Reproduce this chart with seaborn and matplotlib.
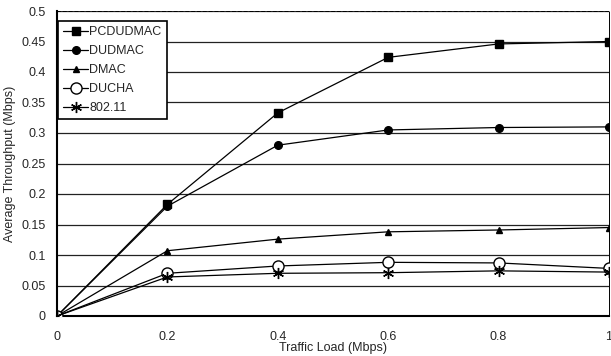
import numpy as np
import pandas as pd
import matplotlib
matplotlib.use("Agg")
import matplotlib.pyplot as plt
import seaborn as sns

traffic_load = [0, 0.2, 0.4, 0.6, 0.8, 1.0]
pcdudmac = [0, 0.183, 0.333, 0.424, 0.446, 0.45]
dudmac = [0, 0.180, 0.280, 0.305, 0.309, 0.310]
dmac = [0, 0.107, 0.126, 0.138, 0.141, 0.145]
ducha = [0, 0.070, 0.082, 0.088, 0.087, 0.078]
ieee80211 = [0, 0.064, 0.070, 0.071, 0.074, 0.072]

series = ["PCDUDMAC", "DUDMAC", "DMAC", "DUCHA", "802.11"]
values = [pcdudmac, dudmac, dmac, ducha, ieee80211]

df = pd.DataFrame({
    "load": traffic_load * len(series),
    "thr": sum(values, []),
    "proto": [s for s in series for _ in traffic_load],
})

sns.set_style("white")
plt.rcParams["font.family"] = ["Liberation Sans", "DejaVu Sans"]

fig = plt.figure(figsize=(6.11, 3.56), dpi=100)
ax = fig.add_axes([57 / 611, 40 / 356, 552 / 611, 305 / 356])

markers = {"PCDUDMAC": "s", "DUDMAC": "o", "DMAC": "^", "DUCHA": "o", "802.11": (6, 2, 0)}
faces = {"PCDUDMAC": "black", "DUDMAC": "black", "DMAC": "black", "DUCHA": "white", "802.11": "black"}
sizes = {"PCDUDMAC": 5.5, "DUDMAC": 5.5, "DMAC": 4.5, "DUCHA": 8, "802.11": 8}

for name in series:
    sub = df[df["proto"] == name]
    sns.lineplot(data=sub, x="load", y="thr", ax=ax, color="black", lw=0.9,
                 marker=markers[name], markersize=sizes[name],
                 markerfacecolor=faces[name], markeredgecolor="black",
                 markeredgewidth=1.0, label=name, zorder=3)

ax.set_xlim(0, 1)
ax.set_ylim(0, 0.5)
ax.set_xticks([0, 0.2, 0.4, 0.6, 0.8, 1.0])
ax.set_xticklabels(["0", "0.2", "0.4", "0.6", "0.8", "1"])
ax.set_yticks(np.arange(0, 0.501, 0.05))
ax.set_yticklabels(["0", "0.05", "0.1", "0.15", "0.2", "0.25", "0.3", "0.35", "0.4", "0.45", "0.5"])
ax.yaxis.grid(True, color="#222222", lw=0.9)
ax.tick_params(axis="y", labelsize=9, length=0, pad=8)
ax.tick_params(axis="x", labelsize=9, length=3, direction="in", width=0.8, pad=11)
ax.set_xlabel("Traffic Load (Mbps)", fontsize=9, labelpad=-1)
ax.set_ylabel("Average Throughput (Mbps)", fontsize=9, labelpad=4)

ax.spines["left"].set_linewidth(1.5)
ax.spines["bottom"].set_linewidth(1.5)
ax.spines["top"].set_linestyle((0, (3, 3)))
ax.spines["top"].set_linewidth(0.7)
ax.spines["right"].set_linestyle((0, (1, 1)))
ax.spines["right"].set_linewidth(0.7)
for s in ax.spines.values():
    s.set_color("black")

leg = ax.legend(loc="upper left", bbox_to_anchor=(0.0, 0.97), fontsize=9,
                frameon=True, fancybox=False, handlelength=2.0,
                handletextpad=0.1, labelspacing=0.55, borderpad=0.4,
                borderaxespad=0.1)
leg.get_frame().set_edgecolor("black")
leg.get_frame().set_linewidth(1.2)
leg.get_frame().set_alpha(1)

fig.savefig("out.png", dpi=100)
